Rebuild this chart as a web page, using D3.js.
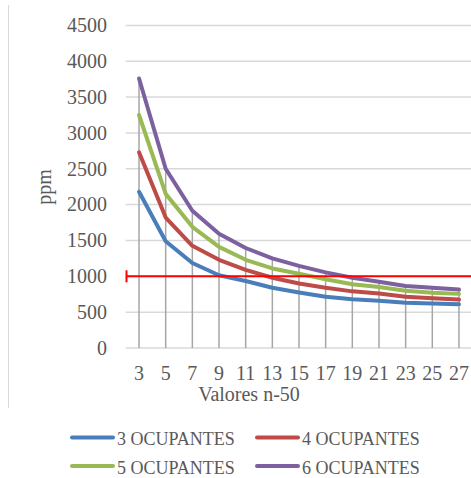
<!DOCTYPE html>
<html>
<head>
<meta charset="utf-8">
<script src="https://cdn.jsdelivr.net/npm/d3@7"></script>
<style>
  html, body { margin: 0; padding: 0; background: #fff; }
  svg { display: block; }
  text { font-family: "Liberation Serif", "DejaVu Serif", serif; fill: #595959; }
</style>
</head>
<body>
<svg id="chart" width="471" height="478"></svg>
<script>
const categories = [3, 5, 7, 9, 11, 13, 15, 17, 19, 21, 23, 25, 27];
const seriesNames = ["3 OCUPANTES", "4 OCUPANTES", "5 OCUPANTES", "6 OCUPANTES"];
const occ3 = [2180, 1490, 1185, 1015, 935, 840, 775, 715, 680, 660, 630, 620, 610];
const occ4 = [2730, 1820, 1425, 1230, 1090, 980, 900, 840, 790, 760, 715, 695, 675];
const occ5 = [3250, 2150, 1690, 1410, 1230, 1110, 1035, 960, 890, 850, 800, 770, 755];
const occ6 = [3760, 2500, 1915, 1595, 1395, 1250, 1145, 1055, 980, 925, 865, 840, 815];
const yTicks = [0, 500, 1000, 1500, 2000, 2500, 3000, 3500, 4000, 4500];
const threshold = 1000;
const xTitle = "Valores n-50";
const yTitle = "ppm";

const seriesValues = [occ3, occ4, occ5, occ6];
const colors = ["#4a7ebb", "#be4b48", "#98b954", "#7d60a0"];

const svg = d3.select("#chart");

const x = d3.scaleBand().domain(categories).range([125.7, 472.3]);
const y = d3.scaleLinear().domain([0, 4500]).range([348, 25.4]);
const cx = d => x(d) + x.bandwidth() / 2;

// chart area left border
svg.append("line").attr("x1", 8.5).attr("x2", 8.5).attr("y1", 5).attr("y2", 408)
  .attr("stroke", "#d9d9d9").attr("stroke-width", 1);

// gridlines
svg.append("g").selectAll("line").data(yTicks).join("line")
  .attr("x1", 125.7).attr("x2", 471)
  .attr("y1", d => y(d)).attr("y2", d => y(d))
  .attr("stroke", "#d9d9d9").attr("stroke-width", 1.5);

// y tick labels
svg.append("g").selectAll("text").data(yTicks).join("text")
  .attr("x", 107).attr("y", d => y(d)).attr("dy", "0.34em")
  .attr("text-anchor", "end").attr("font-size", 20)
  .text(d => d);

// x tick labels
svg.append("g").selectAll("text").data(categories).join("text")
  .attr("x", d => cx(d)).attr("y", 380)
  .attr("text-anchor", "middle").attr("font-size", 20)
  .text(d => d);

// axis titles
svg.append("text").attr("x", 249).attr("y", 401).attr("text-anchor", "middle")
  .attr("font-size", 20).text(xTitle);
svg.append("text").attr("transform", "translate(51,187) rotate(-90)")
  .attr("text-anchor", "middle").attr("font-size", 20).text(yTitle);

// drop lines from the highest series down to 0
const maxVals = categories.map((c, i) => d3.max(seriesValues, s => s[i]));
svg.append("g").selectAll("line").data(categories).join("line")
  .attr("x1", d => cx(d)).attr("x2", d => cx(d))
  .attr("y1", y(0)).attr("y2", (d, i) => y(maxVals[i]))
  .attr("stroke", "#a6a6a6").attr("stroke-width", 1.5);

// series lines
const line = d3.line().x((d, i) => cx(categories[i])).y(d => y(d));
svg.append("g").selectAll("path").data(seriesValues).join("path")
  .attr("d", d => line(d))
  .attr("fill", "none")
  .attr("stroke", (d, i) => colors[i])
  .attr("stroke-width", 4)
  .attr("stroke-linejoin", "round")
  .attr("stroke-linecap", "round");

// threshold line
const ty = y(threshold);
svg.append("line").attr("x1", 126.5).attr("x2", 471).attr("y1", ty).attr("y2", ty)
  .attr("stroke", "#ff0000").attr("stroke-width", 2);
svg.append("line").attr("x1", 126.5).attr("x2", 126.5).attr("y1", ty - 6).attr("y2", ty + 6)
  .attr("stroke", "#ff0000").attr("stroke-width", 2);

// legend
const legendPos = [
  { lx: 72, ly: 437.5, ty: 445 },
  { lx: 257, ly: 437.5, ty: 445 },
  { lx: 72, ly: 466, ty: 473.5 },
  { lx: 257, ly: 466, ty: 473.5 }
];
const lg = svg.append("g").selectAll("g").data(seriesNames).join("g");
lg.append("line")
  .attr("x1", (d, i) => legendPos[i].lx).attr("x2", (d, i) => legendPos[i].lx + 41)
  .attr("y1", (d, i) => legendPos[i].ly).attr("y2", (d, i) => legendPos[i].ly)
  .attr("stroke", (d, i) => colors[i]).attr("stroke-width", 4).attr("stroke-linecap", "round");
lg.append("text")
  .attr("x", (d, i) => legendPos[i].lx + 45).attr("y", (d, i) => legendPos[i].ty)
  .attr("font-size", 18).text(d => d);
</script>
</body>
</html>
